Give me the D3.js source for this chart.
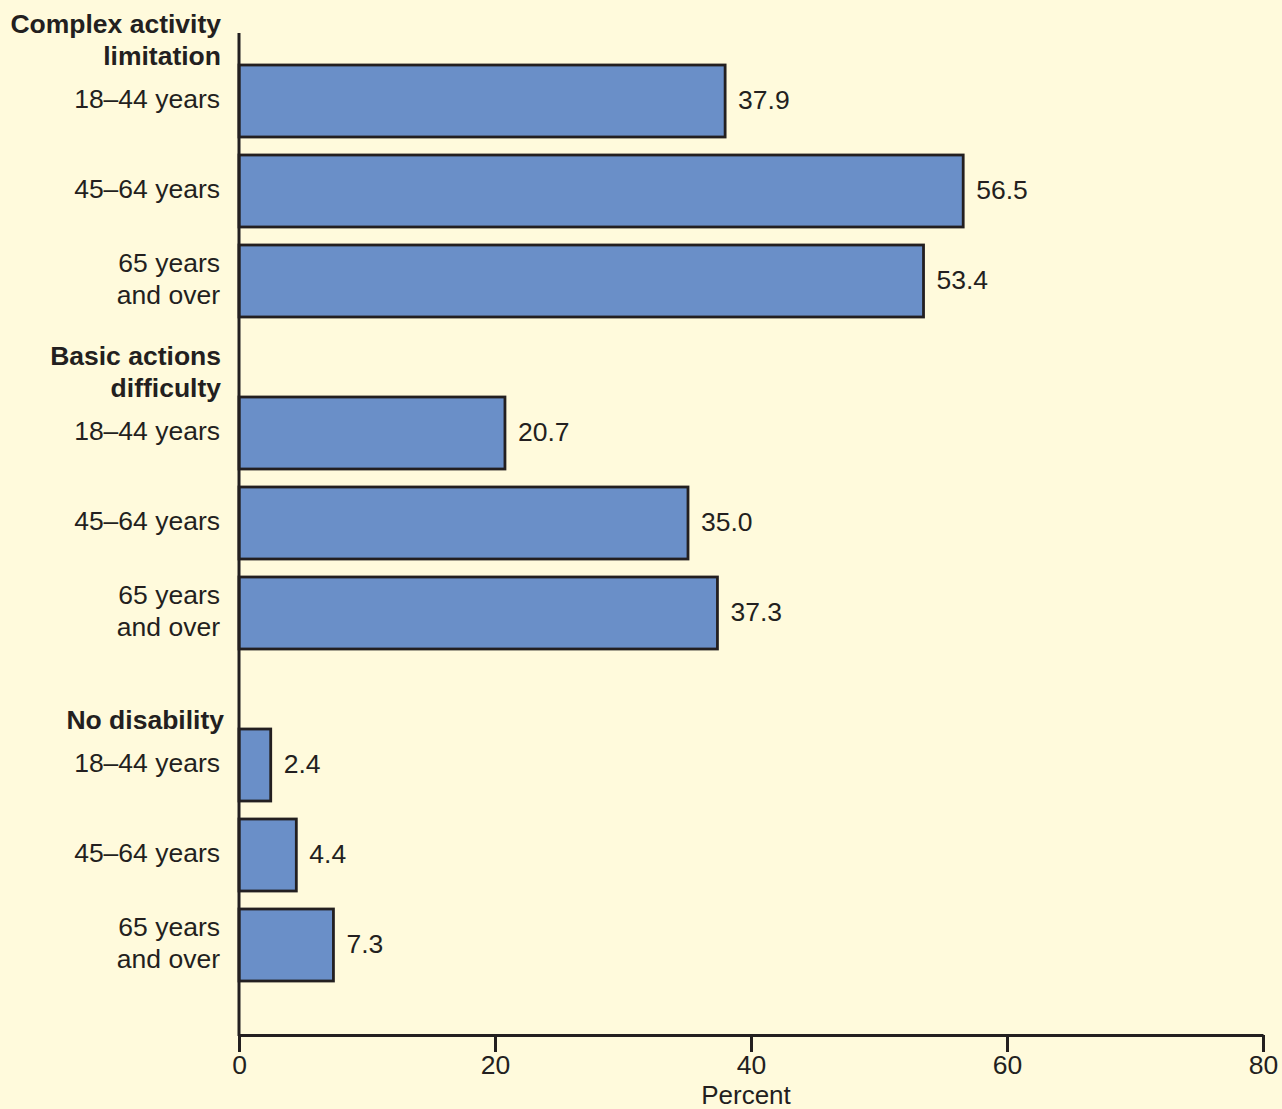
<!DOCTYPE html>
<html>
<head>
<meta charset="utf-8">
<script src="https://cdn.jsdelivr.net/npm/d3@7"></script>
<style>
  html, body { margin: 0; padding: 0; background: #fffadc; }
  svg { display: block; }
  text { font-family: "Liberation Sans", Arial, sans-serif; fill: #231f20; }
</style>
</head>
<body>
<svg id="chart" width="1282" height="1109"></svg>
<script>
const groups = ["Complex activity limitation", "Basic actions difficulty", "No disability"];
const groupLabelLines = [["Complex activity", "limitation"], ["Basic actions", "difficulty"], ["No disability"]];
const ages = ["18–44 years", "45–64 years", "65 years and over"];
const ageLabelLines = [["18–44 years"], ["45–64 years"], ["65 years", "and over"]];
const values = [
  [37.9, 56.5, 53.4],
  [20.7, 35.0, 37.3],
  [2.4, 4.4, 7.3]
];
const xTicks = [0, 20, 40, 60, 80];
const xTitle = "Percent";

const data = [];
groups.forEach((g, gi) => ages.forEach((a, ai) => data.push({ group: g, age: a, gi, ai, value: values[gi][ai] })));

const svg = d3.select("#chart");
const x = d3.scaleLinear().domain([0, 80]).range([239, 1263]);
const yGroup = d3.scaleBand().domain(groups).range([65, 981]).paddingInner(0.241).paddingOuter(0);
const yAge = d3.scaleBand().domain(ages).range([0, yGroup.bandwidth()]).paddingInner(0.2).paddingOuter(0);

const ink = "#231f20";
const fs = 26.5;

// bars
svg.append("g").selectAll("rect").data(data).join("rect")
  .attr("x", x(0))
  .attr("y", d => yGroup(d.group) + yAge(d.age))
  .attr("width", d => x(d.value) - x(0) + 1)
  .attr("height", yAge.bandwidth())
  .attr("fill", "#6a8fc8")
  .attr("stroke", ink)
  .attr("stroke-width", 2.8);

// value labels
svg.append("g").selectAll("text").data(data).join("text")
  .attr("x", d => x(d.value) + 14)
  .attr("y", d => yGroup(d.group) + yAge(d.age) + yAge.bandwidth() / 2 - 1)
  .attr("dy", "0.35em")
  .attr("font-size", fs)
  .text(d => d.value.toFixed(1));

// age labels
const ageG = svg.append("g");
data.forEach(d => {
  const lines = ageLabelLines[d.ai];
  const cy = yGroup(d.group) + yAge(d.age) + yAge.bandwidth() / 2;
  lines.forEach((ln, li) => {
    ageG.append("text")
      .attr("x", 220)
      .attr("y", cy + (li - (lines.length - 1) / 2) * 32 - 2)
      .attr("dy", "0.35em")
      .attr("text-anchor", "end")
      .attr("font-size", fs)
      .text(ln);
  });
});

// group labels
const grpG = svg.append("g");
groups.forEach((g, gi) => {
  const lines = groupLabelLines[gi];
  const lastCy = yGroup(g) - 9;
  lines.forEach((ln, li) => {
    grpG.append("text")
      .attr("x", gi === 2 ? 224 : 221)
      .attr("y", lastCy - (lines.length - 1 - li) * 32)
      .attr("dy", "0.35em")
      .attr("text-anchor", "end")
      .attr("font-size", fs)
      .attr("font-weight", "bold")
      .text(ln);
  });
});

// axes
svg.append("line")
  .attr("x1", x(0)).attr("x2", x(0))
  .attr("y1", 33).attr("y2", 1036)
  .attr("stroke", ink).attr("stroke-width", 3);

const xAxis = svg.append("g")
  .attr("transform", "translate(0,1035)")
  .call(d3.axisBottom(x).tickValues(xTicks).tickSize(17).tickPadding(3).tickSizeOuter(0));
xAxis.select(".domain").attr("stroke", ink).attr("stroke-width", 3);
xAxis.selectAll(".tick line").attr("stroke", ink).attr("stroke-width", 3);
xAxis.selectAll(".tick text")
  .attr("font-size", fs)
  .attr("font-family", "Liberation Sans, Arial, sans-serif")
  .attr("fill", ink);

svg.append("text")
  .attr("x", 746)
  .attr("y", 1095)
  .attr("dy", "0.35em")
  .attr("text-anchor", "middle")
  .attr("font-size", 26)
  .text(xTitle);
</script>
</body>
</html>
